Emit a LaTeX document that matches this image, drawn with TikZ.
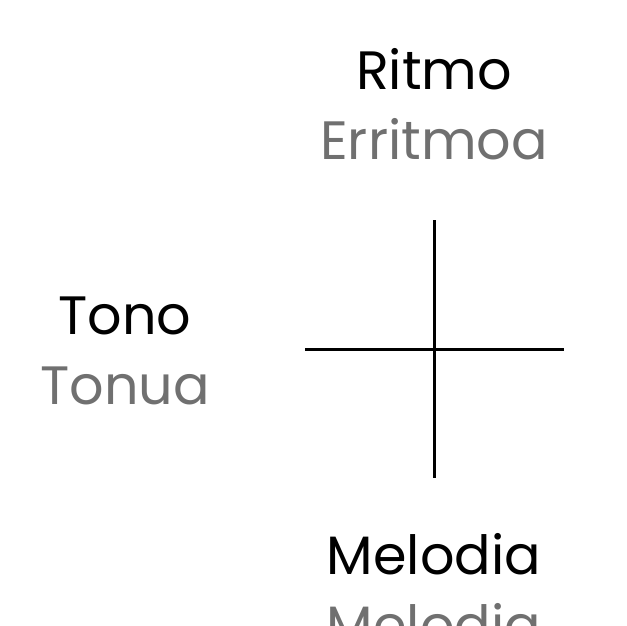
\documentclass[tikz,border=0pt]{standalone}
\usepackage{fontspec}
\setmainfont{Poppins}
\definecolor{graytxt}{HTML}{707070}
\begin{document}
\begin{tikzpicture}[x=1pt,y=-1pt,
  lbl/.style={font=\fontsize{54}{58}\selectfont, anchor=base, inner sep=0pt},
  sub/.style={lbl, text=graytxt},
  axis/.style={line width=3pt}]
\useasboundingbox (0,0) rectangle (627,626);
\clip (0,0) rectangle (627,626);
\node[lbl] (ritmo) at (434,89) {Ritmo};
\node[sub] (erritmoa) at (434,159) {Erritmoa};
\node[lbl] (tono) at (125,334) {Tono};
\node[sub] (tonua) at (125,404) {Tonua};
\node[lbl] (melodia) at (434,574) {Melodia};
\node[sub] (melodia2) at (434,644) {Melodia};
\coordinate (top) at (434,220);
\coordinate (bot) at (434,478);
\coordinate (left) at (305,349);
\coordinate (right) at (564,349);
\draw[axis] (top) -- (bot);
\draw[axis] (left) -- (right);
\end{tikzpicture}
\end{document}
